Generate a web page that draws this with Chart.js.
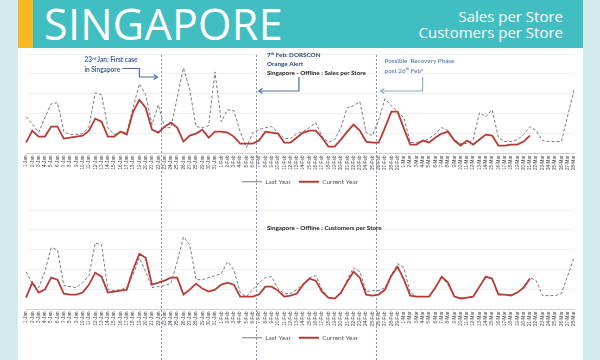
<!DOCTYPE html>
<html><head><meta charset="utf-8">
<script src="https://cdn.jsdelivr.net/npm/chart.js@4.4.1/dist/chart.umd.min.js"></script>
<style>
html,body{margin:0;padding:0;width:600px;height:360px;overflow:hidden;background:#d3ebed;}
#panel{position:absolute;left:18px;top:0;width:565px;height:360px;background:#fff;}
#banner{position:absolute;left:18px;top:0;width:565px;height:48px;background:#41bec1;}
#bar{position:absolute;left:0;top:0;width:15px;height:48px;background:#f4b824;}
#big{position:absolute;left:26px;top:0;font:43px/48px 'Open Sans',sans-serif;color:#fff;letter-spacing:0.3px;}
#sub{position:absolute;right:20px;top:8px;text-align:right;font:15px/16px 'Open Sans',sans-serif;color:#fff;}
canvas{position:absolute;left:0;}
</style></head>
<body>
<div id="panel"></div>
<div id="banner"><div id="bar"></div><div id="big">SINGAPORE</div><div id="sub">Sales per Store<br>Customers per Store</div></div>
<canvas id="c1" width="600" height="150" style="top:48px"></canvas>
<canvas id="c2" width="600" height="162" style="top:198px"></canvas>
<script>
const dayLabels = ['1-Jan','2-Jan','3-Jan','4-Jan','5-Jan','6-Jan','7-Jan','8-Jan','9-Jan','10-Jan','11-Jan','12-Jan','13-Jan','14-Jan','15-Jan','16-Jan','17-Jan','18-Jan','19-Jan','20-Jan','21-Jan','22-Jan','23-Jan','24-Jan','25-Jan','26-Jan','27-Jan','28-Jan','29-Jan','30-Jan','31-Jan',
'1-Feb','2-Feb','3-Feb','4-Feb','5-Feb','6-Feb','7-Feb','8-Feb','9-Feb','10-Feb','11-Feb','12-Feb','13-Feb','14-Feb','15-Feb','16-Feb','17-Feb','18-Feb','19-Feb','20-Feb','21-Feb','22-Feb','23-Feb','24-Feb','25-Feb','26-Feb','27-Feb','28-Feb','29-Feb',
'1-Mar','2-Mar','3-Mar','4-Mar','5-Mar','6-Mar','7-Mar','8-Mar','9-Mar','10-Mar','11-Mar','12-Mar','13-Mar','14-Mar','15-Mar','16-Mar','17-Mar','18-Mar','19-Mar','20-Mar','21-Mar','22-Mar','23-Mar','24-Mar','25-Mar','26-Mar','27-Mar','28-Mar'];

const salesLastYear = [37,30,21,36,50,51,22,19,19,20, 27,61,59,26,19,22,21,46,70,59, 29,49,26,26,56,86,64,27,26,28,
  82,32,44,43,22,6,21,24,26,27, 21,15,15,20,22,26,31,17,11,14, 26,46,48,52,21,18,34,55,48,42,
  36,11,11,12,15,20,26,23,14,10, 10,14,41,37,44,16,12,12,14,19, 27,23,13,12,12,12,38,64];
const salesCurrentYear = [11,23,17,17,27,27,15,16,17,18, 23,35,32,17,17,22,19,42,54,46, 24,21,27,31,26,12,18,20,24,16,
  22,22,21,17,10,10,10,13,22,21, 20,11,11,16,21,23,23,16,7,7, 14,22,29,23,12,11,11,26,42,42,
  25,9,9,13,11,16,20,22,13,8, 13,9,14,19,18,8,8,9,9,12, 18,null,null,null,null,null,null,null];
const custLastYear = [38,26,22,38,62,60,24,23,22,27, 34,67,65,20,19,20,22,35,52,38, 22,23,24,26,48,73,65,30,30,32,
  34,36,48,40,17,13,20,27,32,33, 21,16,16,20,26,32,34,20,12,11, 16,30,42,38,18,19,19,22,35,46,
  42,17,13,13,13,22,32,25,13,12, 12,13,23,33,31,16,15,15,17,23, 32,29,14,14,14,16,34,52];
const custCurrentYear = [12,27,17,20,32,30,16,15,15,17, 25,37,33,17,18,19,20,40,56,52, 25,27,29,32,32,15,20,26,21,18,
  20,25,27,25,13,13,13,15,23,23, 19,13,14,16,25,31,29,18,12,11, 17,28,38,32,15,14,15,20,34,43,
  30,14,13,13,13,22,33,27,13,11, 12,13,23,33,31,15,15,14,17,22, 31,null,null,null,null,null,null,null];
const eventDays = ['23-Jan','7-Feb','26-Feb'];
const seriesNames = ['Last Year','Current Year'];

function supText(ctx, x, y, parts, size, weight, color){
  let cx = x;
  ctx.fillStyle = color; ctx.textBaseline = 'alphabetic'; ctx.textAlign = 'left';
  parts.forEach(p => {
    const sup = Array.isArray(p);
    const t = sup ? p[0] : p;
    ctx.font = weight + ' ' + (sup ? size*0.62 : size) + 'px Lato, sans-serif';
    ctx.fillText(t, cx, sup ? y - size*0.38 : y);
    cx += ctx.measureText(t).width;
  });
}
function arrow(ctx, pts, color){
  ctx.save();
  ctx.strokeStyle = color; ctx.lineWidth = 1.2; ctx.setLineDash([]);
  ctx.beginPath(); ctx.moveTo(pts[0][0], pts[0][1]);
  for (let i=1;i<pts.length;i++) ctx.lineTo(pts[i][0], pts[i][1]);
  ctx.stroke();
  const [x1,y1] = pts[pts.length-2], [x2,y2] = pts[pts.length-1];
  const a = Math.atan2(y2-y1, x2-x1), s = 4.5;
  ctx.beginPath();
  ctx.moveTo(x2 - s*Math.cos(a-0.6), y2 - s*Math.sin(a-0.6));
  ctx.lineTo(x2, y2);
  ctx.lineTo(x2 - s*Math.cos(a+0.6), y2 - s*Math.sin(a+0.6));
  ctx.stroke();
  ctx.restore();
}

const annot = {
  id: 'annot',
  beforeDatasetsDraw(chart, args, o){
    const {ctx, scales:{x}} = chart;
    ctx.save();
    ctx.strokeStyle = '#7f95c0'; ctx.lineWidth = 1; ctx.setLineDash([2,2]);
    eventDays.forEach(d => {
      const px = Math.round(x.getPixelForValue(dayLabels.indexOf(d) - 0.5)) + 0.5;
      ctx.beginPath(); ctx.moveTo(px, o.lineTop); ctx.lineTo(px, chart.height); ctx.stroke();
    });
    ctx.restore();
  },
  afterDatasetsDraw(chart, args, o){
    const {ctx, scales:{x}} = chart;
    const L = eventDays.map(d => x.getPixelForValue(dayLabels.indexOf(d) - 0.5));
    ctx.save();
    supText(ctx, L[1] + 11, o.titleY, [o.title], 6.3, 'bold', '#1e1e1e');
    if (o.notes){
      supText(ctx, L[0] - 77, 14, ['23', ['rd'], ' Jan: First case'], 6.5, 'bold', '#3d5f9e');
      supText(ctx, L[0] - 77, 23.5, ['in Singapore'], 6.5, 'bold', '#3d5f9e');
      arrow(ctx, [[L[0]-39, 20.5],[L[0]-22, 20.5],[L[0]-22, 29],[L[0]-4, 29]], '#4a6ea8');
      supText(ctx, L[1] + 11, 9, ['7', ['th'], ' Feb: DORSCON'], 6.3, 'bold', '#2c4777');
      supText(ctx, L[1] + 11, 18, ['Orange Alert'], 6.3, 'bold', '#2c4777');
      arrow(ctx, [[L[1]+43, 29],[L[1]+43, 43],[L[1]+3, 43]], '#4a6ea8');
      supText(ctx, L[2] + 9, 14.5, ['Possible  Recovery Phase'], 6.3, '600', '#5a7cb8');
      supText(ctx, L[2] + 9, 24.5, ['post 26', ['th'], ' Feb*'], 6.3, '600', '#5a7cb8');
      arrow(ctx, [[L[2]+47, 29],[L[2]+47, 43],[L[2]+5, 43]], '#93a8cc');
    }
    ctx.restore();
  }
};

function makeChart(id, lastYear, currentYear, annotOpts, padBottom, yTop, axisH){
  return new Chart(document.getElementById(id), {
    type: 'line',
    data: {
      labels: dayLabels,
      datasets: [
        {label: seriesNames[0], data: lastYear, borderColor: '#7b7b7b', borderWidth: 1, borderDash: [3,2], pointRadius: 0, fill: false, order: 1},
        {label: seriesNames[1], data: currentYear, borderColor: '#b83a35', borderWidth: 1.8, pointRadius: 0, fill: false, order: 0}
      ]
    },
    options: {
      responsive: false, animation: false,
      layout: {padding: {left: 26, right: 26, top: yTop, bottom: padBottom}},
      plugins: {
        legend: {position: 'bottom', labels: {usePointStyle: true, pointStyle: 'line', pointStyleWidth: 20, boxHeight: 6,
          font: {size: 6.5, family: 'Lato'}, color: '#555', padding: 8,
          sort: (a, b) => a.datasetIndex - b.datasetIndex}},
        tooltip: {enabled: false},
        annot: annotOpts
      },
      scales: {
        x: {grid: {display: false, drawTicks: false}, border: {color: '#cfcfcf'},
            ticks: {autoSkip: false, maxRotation: 90, minRotation: 90, font: {size: 4.6, family: "'Liberation Sans'"}, color: '#444', padding: 2},
            afterFit: s => { s.height = axisH; }},
        y: {min: 0, max: 100, ticks: {display: false, stepSize: 20}, grid: {color: '#f0f0f0', drawTicks: false}, border: {display: false}}
      }
    },
    plugins: [annot]
  });
}

makeChart('c1', salesLastYear, salesCurrentYear,
  {lineTop: 7, title: 'Singapore - Offline : Sales per Store', titleY: 27, notes: true}, 3, 6, 17);
makeChart('c2', custLastYear, custCurrentYear,
  {lineTop: 0, title: 'Singapore - Offline : Customers per Store', titleY: 32, notes: false}, 9, 12, 17);
</script>
</body></html>
